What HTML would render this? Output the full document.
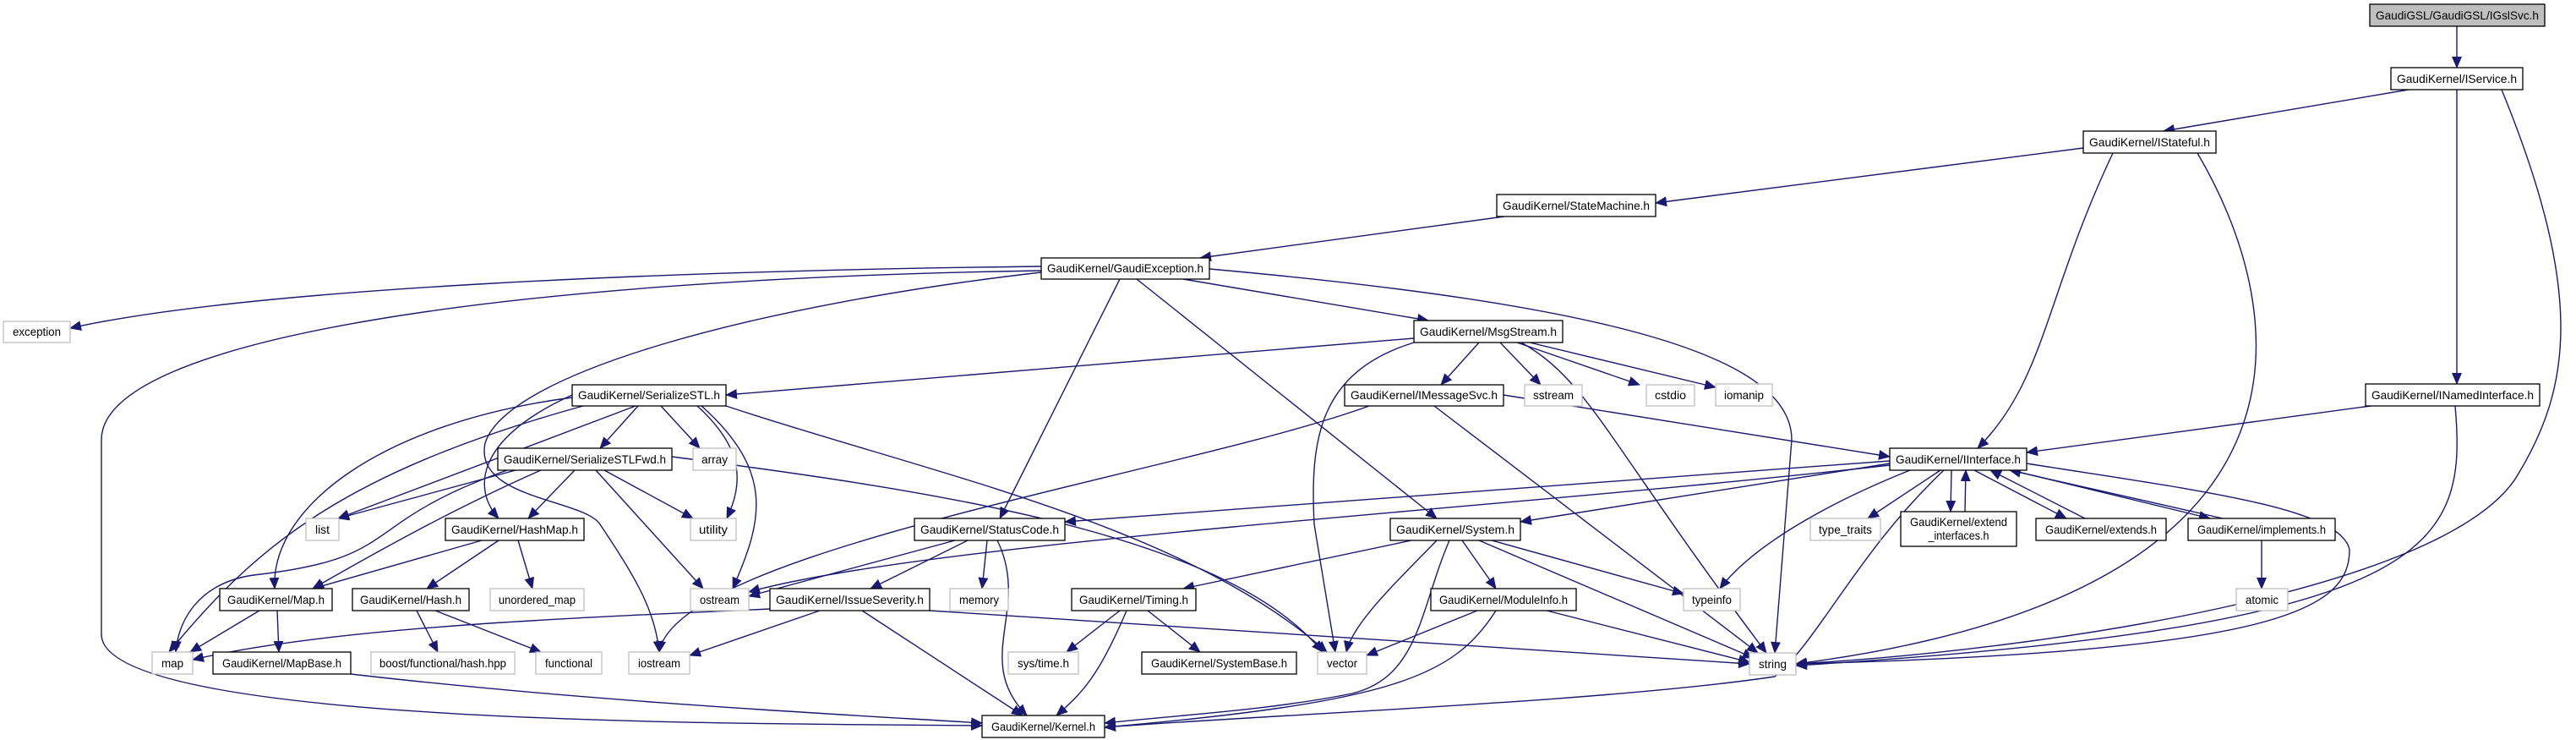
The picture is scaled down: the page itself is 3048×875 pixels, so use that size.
<!DOCTYPE html>
<html><head><meta charset="utf-8"><style>
html,body{margin:0;padding:0;background:#fff;}
svg{display:block;}
text{font-family:"Liberation Sans",sans-serif;font-size:14px;fill:#000;}
.e{fill:none;stroke:#191970;stroke-width:1.4;marker-end:url(#a);}
.n rect{fill:#fff;stroke:#000;stroke-width:1.3;}
.g rect{fill:#fff;stroke:#bfbfbf;stroke-width:1.3;}
</style></head><body>
<svg width="3048" height="875" viewBox="0 0 3048 875" xmlns="http://www.w3.org/2000/svg">
<defs><marker id="a" markerWidth="14" markerHeight="12" refX="13" refY="6" orient="auto" markerUnits="userSpaceOnUse"><path d="M0,0 L14,6 L0,12 z" fill="#191970"/></marker></defs>
<g>
<path class="e" d="M2907,31 L2907,80"/>
<path class="e" d="M2850,106 L2560,155"/>
<path class="e" d="M2907,106 L2907,454"/>
<path class="e" d="M2960,106 C3060,350 3040,460 2980,560 C2900,700 2400,770 2125,785"/>
<path class="e" d="M2465,175 L1959,240"/>
<path class="e" d="M2500,181 C2420,350 2420,450 2340,530"/>
<path class="e" d="M2600,181 C2700,350 2790,700 2125,785"/>
<path class="e" d="M1780,256 L1420,305"/>
<path class="e" d="M1232,315 C800,320 300,340 83,388"/>
<path class="e" d="M1232,320 C600,330 120,400 120,520 L120,750 C120,860 900,855 1162,858"/>
<path class="e" d="M1232,322 C900,360 600,440 574,524 C560,590 690,590 710,620 C750,680 775,720 780,771"/>
<path class="e" d="M1325,330 L1183,613"/>
<path class="e" d="M1345,330 L1700,613"/>
<path class="e" d="M1400,330 L1690,379"/>
<path class="e" d="M1431,318 C1900,360 2120,420 2120,520 L2100,772"/>
<path class="e" d="M1673,400 L859,467"/>
<path class="e" d="M1750,405 L1705,455"/>
<path class="e" d="M1775,405 L1823,455"/>
<path class="e" d="M1795,405 L1940,455"/>
<path class="e" d="M1810,405 L2030,458"/>
<path class="e" d="M1800,405 C1880,450 1900,520 2090,772"/>
<path class="e" d="M1673,405 C1560,440 1550,520 1555,620 L1580,771"/>
<path class="e" d="M755,480 L710,530"/>
<path class="e" d="M782,480 L828,530"/>
<path class="e" d="M752,480 L400,613"/>
<path class="e" d="M677,467 C560,520 560,580 590,613"/>
<path class="e" d="M677,470 C450,500 320,600 325,696"/>
<path class="e" d="M690,480 C400,560 300,650 200,771"/>
<path class="e" d="M825,480 C880,530 880,570 860,613"/>
<path class="e" d="M830,480 C920,560 900,620 867,696"/>
<path class="e" d="M859,480 C1100,560 1400,620 1570,771"/>
<path class="e" d="M610,556 L400,613"/>
<path class="e" d="M600,556 C420,620 480,660 300,680 C230,690 210,740 208,771"/>
<path class="e" d="M640,556 C540,600 450,650 370,696"/>
<path class="e" d="M680,556 L625,613"/>
<path class="e" d="M715,556 L820,613"/>
<path class="e" d="M705,556 L832,696"/>
<path class="e" d="M795,540 C1100,580 1450,630 1565,771"/>
<path class="e" d="M570,639 L370,696"/>
<path class="e" d="M590,639 L505,696"/>
<path class="e" d="M613,639 L630,696"/>
<path class="e" d="M307,722 L225,771"/>
<path class="e" d="M328,722 L330,771"/>
<path class="e" d="M415,797 C700,830 1000,845 1162,855"/>
<path class="e" d="M493,722 L518,771"/>
<path class="e" d="M515,722 L640,771"/>
<path class="e" d="M1779,467 L2236,540"/>
<path class="e" d="M1620,480 C1400,560 800,650 780,771"/>
<path class="e" d="M1697,480 L2080,772"/>
<path class="e" d="M2236,545 L1260,617"/>
<path class="e" d="M2236,548 L1799,617"/>
<path class="e" d="M2236,550 C1800,600 1100,640 886,700"/>
<path class="e" d="M2260,556 C2150,600 2070,650 2035,696"/>
<path class="e" d="M2296,556 L2210,613"/>
<path class="e" d="M2309,556 L2308,605"/>
<path class="e" d="M2325,605 L2326,556"/>
<path class="e" d="M2336,556 L2445,613"/>
<path class="e" d="M2467,613 L2355,556"/>
<path class="e" d="M2380,556 L2615,613"/>
<path class="e" d="M2630,613 L2378,556"/>
<path class="e" d="M2398,548 C2600,580 2770,600 2780,650 C2780,720 2700,770 2125,785"/>
<path class="e" d="M2300,556 C2200,650 2150,760 2100,800 C1900,830 1500,845 1307,860"/>
<path class="e" d="M2805,480 L2398,535"/>
<path class="e" d="M2905,480 C2920,650 2880,740 2125,787"/>
<path class="e" d="M2676,639 L2676,696"/>
<path class="e" d="M1130,639 L886,705"/>
<path class="e" d="M1168,639 L1162,696"/>
<path class="e" d="M1145,639 L1030,696"/>
<path class="e" d="M1180,639 C1220,720 1150,780 1215,846"/>
<path class="e" d="M911,720 C700,730 400,740 228,780"/>
<path class="e" d="M970,722 L816,775"/>
<path class="e" d="M1100,722 L2070,785"/>
<path class="e" d="M1020,722 L1210,846"/>
<path class="e" d="M1670,639 L1400,696"/>
<path class="e" d="M1700,639 C1640,700 1600,740 1593,771"/>
<path class="e" d="M1730,639 L1770,696"/>
<path class="e" d="M1765,639 L1992,702"/>
<path class="e" d="M1750,639 L2075,778"/>
<path class="e" d="M1715,639 C1680,720 1680,800 1600,820 C1500,840 1400,845 1307,855"/>
<path class="e" d="M1325,722 L1262,771"/>
<path class="e" d="M1358,722 L1420,771"/>
<path class="e" d="M1333,722 C1300,800 1280,820 1250,846"/>
<path class="e" d="M1748,722 L1617,775"/>
<path class="e" d="M1830,722 L2070,783"/>
<path class="e" d="M1770,722 C1720,800 1650,830 1307,860"/>
</g>
<g class="n"><rect x="2804" y="5" width="207" height="26" style="fill:#bfbfbf"/><text x="2907.5" y="23" text-anchor="middle" textLength="193" lengthAdjust="spacingAndGlyphs">GaudiGSL/GaudiGSL/IGslSvc.h</text></g>
<g class="n"><rect x="2829" y="80" width="156" height="26"/><text x="2907" y="98" text-anchor="middle" textLength="142" lengthAdjust="spacingAndGlyphs">GaudiKernel/IService.h</text></g>
<g class="n"><rect x="2465" y="155" width="157" height="26"/><text x="2543.5" y="173" text-anchor="middle" textLength="143" lengthAdjust="spacingAndGlyphs">GaudiKernel/IStateful.h</text></g>
<g class="n"><rect x="1771" y="230" width="188" height="26"/><text x="1865" y="248" text-anchor="middle" textLength="174" lengthAdjust="spacingAndGlyphs">GaudiKernel/StateMachine.h</text></g>
<g class="n"><rect x="1232" y="305" width="199" height="25"/><text x="1331.5" y="322" text-anchor="middle" textLength="185" lengthAdjust="spacingAndGlyphs">GaudiKernel/GaudiException.h</text></g>
<g class="n"><rect x="1673" y="379" width="176" height="26"/><text x="1761" y="397" text-anchor="middle" textLength="162" lengthAdjust="spacingAndGlyphs">GaudiKernel/MsgStream.h</text></g>
<g class="n"><rect x="2799" y="454" width="206" height="26"/><text x="2902" y="472" text-anchor="middle" textLength="192" lengthAdjust="spacingAndGlyphs">GaudiKernel/INamedInterface.h</text></g>
<g class="g"><rect x="4" y="380" width="79" height="25"/><text x="43.5" y="397" text-anchor="middle" textLength="57" lengthAdjust="spacingAndGlyphs">exception</text></g>
<g class="n"><rect x="677" y="455" width="182" height="25"/><text x="768" y="472" text-anchor="middle" textLength="168" lengthAdjust="spacingAndGlyphs">GaudiKernel/SerializeSTL.h</text></g>
<g class="n"><rect x="1591" y="455" width="188" height="25"/><text x="1685" y="472" text-anchor="middle" textLength="174" lengthAdjust="spacingAndGlyphs">GaudiKernel/IMessageSvc.h</text></g>
<g class="g"><rect x="1804" y="455" width="68" height="25"/><text x="1838" y="472" text-anchor="middle" textLength="48" lengthAdjust="spacingAndGlyphs">sstream</text></g>
<g class="g"><rect x="1948" y="455" width="57" height="25"/><text x="1976.5" y="472" text-anchor="middle" textLength="37" lengthAdjust="spacingAndGlyphs">cstdio</text></g>
<g class="g"><rect x="2030" y="454" width="67" height="26"/><text x="2063.5" y="472" text-anchor="middle" textLength="47" lengthAdjust="spacingAndGlyphs">iomanip</text></g>
<g class="n"><rect x="589" y="530" width="206" height="26"/><text x="692" y="548" text-anchor="middle" textLength="192" lengthAdjust="spacingAndGlyphs">GaudiKernel/SerializeSTLFwd.h</text></g>
<g class="g"><rect x="820" y="530" width="51" height="26"/><text x="845.5" y="548" text-anchor="middle" textLength="31" lengthAdjust="spacingAndGlyphs">array</text></g>
<g class="n"><rect x="2236" y="530" width="162" height="26"/><text x="2317" y="548" text-anchor="middle" textLength="148" lengthAdjust="spacingAndGlyphs">GaudiKernel/IInterface.h</text></g>
<g class="g"><rect x="362" y="613" width="39" height="26"/><text x="381.5" y="631" text-anchor="middle" textLength="17" lengthAdjust="spacingAndGlyphs">list</text></g>
<g class="n"><rect x="527" y="613" width="164" height="26"/><text x="609" y="631" text-anchor="middle" textLength="150" lengthAdjust="spacingAndGlyphs">GaudiKernel/HashMap.h</text></g>
<g class="g"><rect x="817" y="613" width="54" height="26"/><text x="844" y="631" text-anchor="middle" textLength="34" lengthAdjust="spacingAndGlyphs">utility</text></g>
<g class="n"><rect x="1082" y="613" width="178" height="26"/><text x="1171" y="631" text-anchor="middle" textLength="164" lengthAdjust="spacingAndGlyphs">GaudiKernel/StatusCode.h</text></g>
<g class="n"><rect x="1645" y="613" width="154" height="26"/><text x="1722" y="631" text-anchor="middle" textLength="140" lengthAdjust="spacingAndGlyphs">GaudiKernel/System.h</text></g>
<g class="g"><rect x="2142" y="613" width="83" height="26"/><text x="2183.5" y="631" text-anchor="middle" textLength="63" lengthAdjust="spacingAndGlyphs">type_traits</text></g>
<g class="n"><rect x="2249" y="605" width="137" height="41"/><text x="2317.5" y="622" text-anchor="middle" textLength="115" lengthAdjust="spacingAndGlyphs">GaudiKernel/extend</text><text x="2317.5" y="638" text-anchor="middle" textLength="72" lengthAdjust="spacingAndGlyphs">_interfaces.h</text></g>
<g class="n"><rect x="2409" y="613" width="154" height="26"/><text x="2486" y="631" text-anchor="middle" textLength="132" lengthAdjust="spacingAndGlyphs">GaudiKernel/extends.h</text></g>
<g class="n"><rect x="2589" y="613" width="174" height="26"/><text x="2676" y="631" text-anchor="middle" textLength="152" lengthAdjust="spacingAndGlyphs">GaudiKernel/implements.h</text></g>
<g class="n"><rect x="260" y="696" width="133" height="26"/><text x="326.5" y="714" text-anchor="middle" textLength="115" lengthAdjust="spacingAndGlyphs">GaudiKernel/Map.h</text></g>
<g class="n"><rect x="417" y="696" width="138" height="26"/><text x="486" y="714" text-anchor="middle" textLength="120" lengthAdjust="spacingAndGlyphs">GaudiKernel/Hash.h</text></g>
<g class="g"><rect x="580" y="696" width="111" height="26"/><text x="635.5" y="714" text-anchor="middle" textLength="91" lengthAdjust="spacingAndGlyphs">unordered_map</text></g>
<g class="g"><rect x="817" y="696" width="69" height="26"/><text x="851.5" y="714" text-anchor="middle" textLength="47" lengthAdjust="spacingAndGlyphs">ostream</text></g>
<g class="n"><rect x="911" y="696" width="189" height="26"/><text x="1005.5" y="714" text-anchor="middle" textLength="175" lengthAdjust="spacingAndGlyphs">GaudiKernel/IssueSeverity.h</text></g>
<g class="g"><rect x="1124" y="696" width="69" height="26"/><text x="1158.5" y="714" text-anchor="middle" textLength="47" lengthAdjust="spacingAndGlyphs">memory</text></g>
<g class="n"><rect x="1268" y="696" width="147" height="26"/><text x="1341.5" y="714" text-anchor="middle" textLength="129" lengthAdjust="spacingAndGlyphs">GaudiKernel/Timing.h</text></g>
<g class="n"><rect x="1693" y="696" width="172" height="26"/><text x="1779" y="714" text-anchor="middle" textLength="152" lengthAdjust="spacingAndGlyphs">GaudiKernel/ModuleInfo.h</text></g>
<g class="g"><rect x="1992" y="696" width="67" height="26"/><text x="2025.5" y="714" text-anchor="middle" textLength="47" lengthAdjust="spacingAndGlyphs">typeinfo</text></g>
<g class="g"><rect x="2646" y="696" width="61" height="26"/><text x="2676.5" y="714" text-anchor="middle" textLength="39" lengthAdjust="spacingAndGlyphs">atomic</text></g>
<g class="g"><rect x="180" y="771" width="48" height="26"/><text x="204" y="789" text-anchor="middle" textLength="26" lengthAdjust="spacingAndGlyphs">map</text></g>
<g class="n"><rect x="252" y="771" width="163" height="26"/><text x="333.5" y="789" text-anchor="middle" textLength="141" lengthAdjust="spacingAndGlyphs">GaudiKernel/MapBase.h</text></g>
<g class="g"><rect x="439" y="771" width="170" height="26"/><text x="524" y="789" text-anchor="middle" textLength="150" lengthAdjust="spacingAndGlyphs">boost/functional/hash.hpp</text></g>
<g class="g"><rect x="634" y="771" width="78" height="26"/><text x="673" y="789" text-anchor="middle" textLength="56" lengthAdjust="spacingAndGlyphs">functional</text></g>
<g class="g"><rect x="744" y="771" width="72" height="26"/><text x="780" y="789" text-anchor="middle" textLength="50" lengthAdjust="spacingAndGlyphs">iostream</text></g>
<g class="g"><rect x="1193" y="771" width="83" height="26"/><text x="1234.5" y="789" text-anchor="middle" textLength="61" lengthAdjust="spacingAndGlyphs">sys/time.h</text></g>
<g class="n"><rect x="1351" y="771" width="183" height="26"/><text x="1442.5" y="789" text-anchor="middle" textLength="161" lengthAdjust="spacingAndGlyphs">GaudiKernel/SystemBase.h</text></g>
<g class="g"><rect x="1559" y="771" width="58" height="26"/><text x="1588" y="789" text-anchor="middle" textLength="36" lengthAdjust="spacingAndGlyphs">vector</text></g>
<g class="g"><rect x="2070" y="772" width="55" height="26"/><text x="2097.5" y="790" text-anchor="middle" textLength="33" lengthAdjust="spacingAndGlyphs">string</text></g>
<g class="n"><rect x="1162" y="846" width="145" height="26"/><text x="1234.5" y="864" text-anchor="middle" textLength="123" lengthAdjust="spacingAndGlyphs">GaudiKernel/Kernel.h</text></g>
</svg>
</body></html>
